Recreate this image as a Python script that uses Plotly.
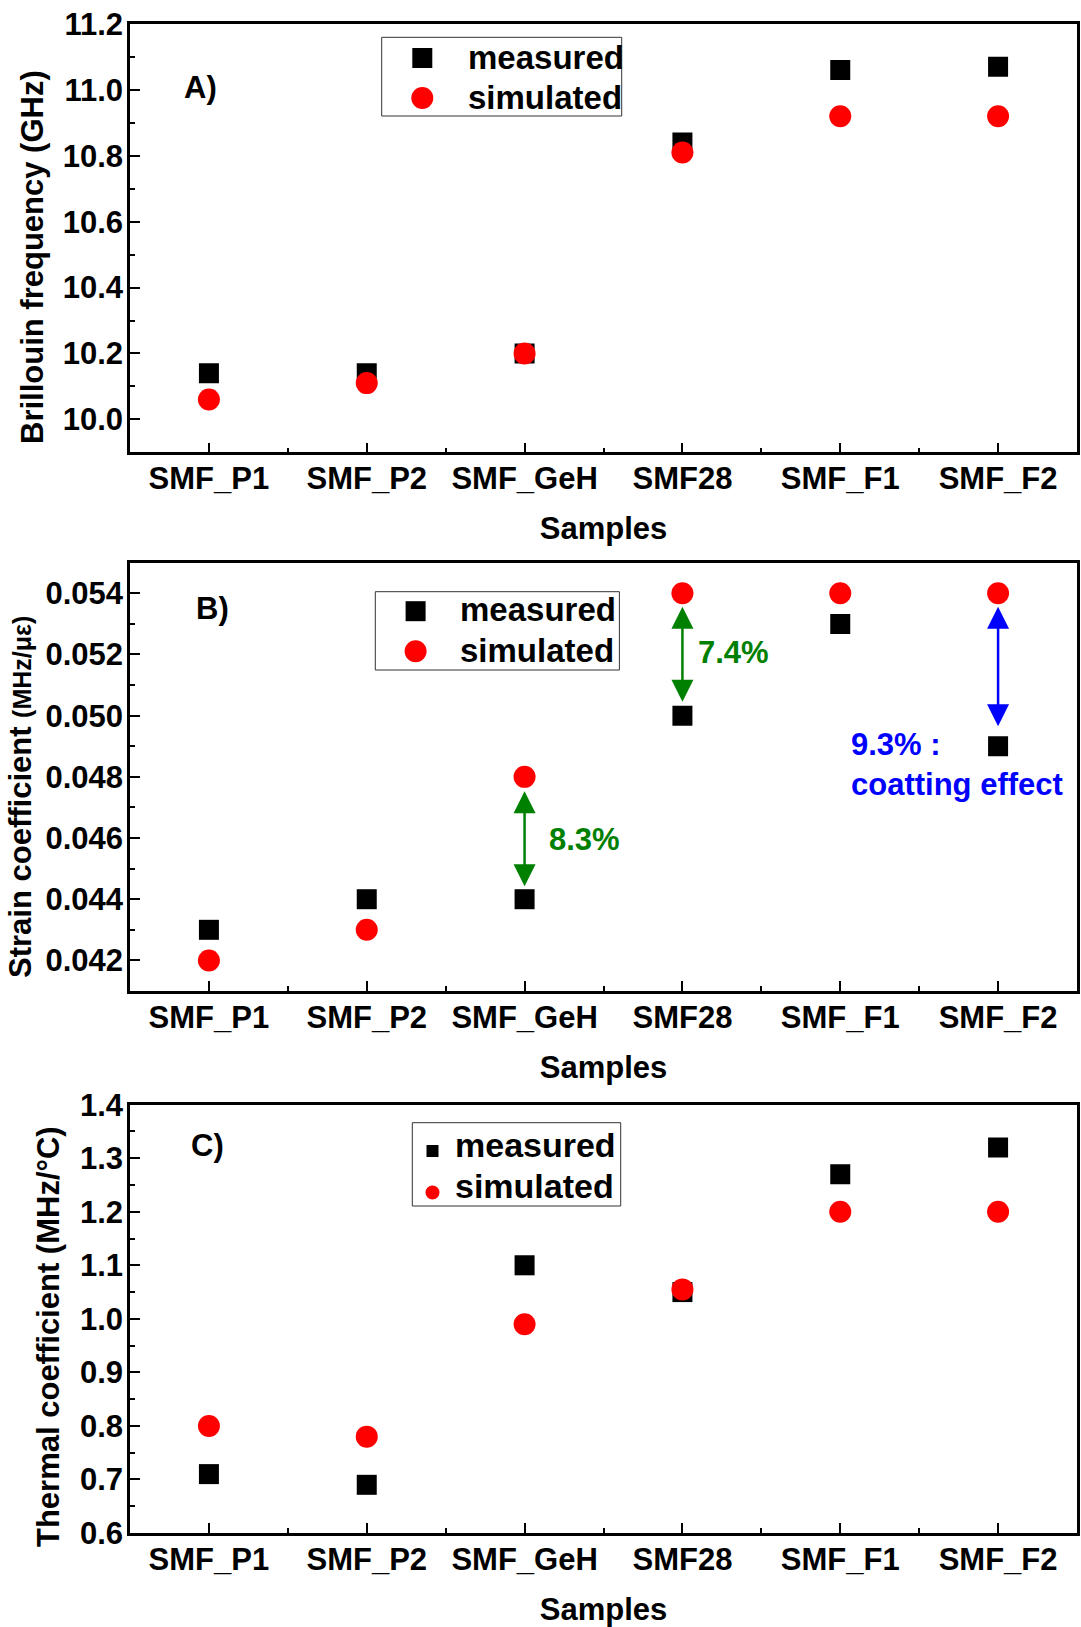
import plotly.graph_objects as go

# ---- data -----------------------------------------------------------------
samples = ["SMF_P1", "SMF_P2", "SMF_GeH", "SMF28", "SMF_F1", "SMF_F2"]

brillouin_measured = [10.14, 10.14, 10.20, 10.84, 11.06, 11.07]
brillouin_simulated = [10.06, 10.11, 10.20, 10.81, 10.92, 10.92]

strain_measured = [0.043, 0.044, 0.044, 0.050, 0.053, 0.049]
strain_simulated = [0.042, 0.043, 0.048, 0.054, 0.054, 0.054]

thermal_measured = [0.71, 0.69, 1.10, 1.05, 1.27, 1.32]
thermal_simulated = [0.80, 0.78, 0.99, 1.055, 1.20, 1.20]

series_names = ["measured", "simulated"]
panel_labels = ["A)", "B)", "C)"]
x_title = "Samples"
y_titles = [
    "Brillouin frequency (GHz)",
    "Strain coefficient <span style='font-size:25px'>(MHz/\u03bc\u03b5)</span>",
    "Thermal coefficient (MHz/\u00b0C)",
]
# strain-panel deviation notes: (sample, text)
deviation_notes = [
    ("SMF_GeH", "8.3%"),
    ("SMF28", "7.4%"),
    ("SMF_F2", "9.3% :<br>coatting effect"),
]

# ---- geometry helpers (pixel -> paper) -------------------------------------
W, H = 1081, 1627
FONT = "Liberation Sans, Arial, sans-serif"


def fx(p):
    return p / W


def fy(p):
    return 1 - p / H


PLOT_L, PLOT_R = 130, 1077
PANEL_TOPS = [24, 562.7, 1104.7]
PANEL_H = 428.3

x_idx = list(range(len(samples)))

fig = go.Figure()

panels = [
    (brillouin_measured, brillouin_simulated),
    (strain_measured, strain_simulated),
    (thermal_measured, thermal_simulated),
]

for k, (meas, sim) in enumerate(panels):
    sfx = "" if k == 0 else str(k + 1)
    fig.add_trace(go.Scatter(
        x=x_idx, y=meas, mode="markers", name=series_names[0],
        xaxis="x" + sfx, yaxis="y" + sfx, showlegend=False,
        marker=dict(symbol="square", size=20, color="black", line=dict(width=0)),
    ))
    fig.add_trace(go.Scatter(
        x=x_idx, y=sim, mode="markers", name=series_names[1],
        xaxis="x" + sfx, yaxis="y" + sfx, showlegend=False,
        marker=dict(symbol="circle", size=22, color="#ff0000", line=dict(width=0)),
    ))

tick_font = dict(family=FONT, size=31, color="black", weight="bold")

y_specs = [
    dict(range=[9.9, 11.2], dtick=0.2, tick0=0, minor_dtick=0.1, fmt=".1f"),
    dict(range=[0.041, 0.055], dtick=0.002, tick0=0, minor_dtick=0.001, fmt=".3f"),
    dict(range=[0.6, 1.4], dtick=0.1, tick0=0, minor_dtick=0.05, fmt=".1f"),
]

layout = dict(
    width=W, height=H, autosize=False,
    margin=dict(l=0, r=0, t=0, b=0),
    paper_bgcolor="white", plot_bgcolor="white",
    font=dict(family=FONT, color="black"),
    showlegend=False,
)

minor_x = [i + 0.5 for i in range(-1, len(samples))]

for k, spec in enumerate(y_specs):
    sfx = "" if k == 0 else str(k + 1)
    top = PANEL_TOPS[k]
    bottom = top + PANEL_H
    layout["xaxis" + sfx] = dict(
        domain=[fx(PLOT_L), fx(PLOT_R)], anchor="y" + sfx,
        range=[-0.5, len(samples) - 0.5],
        tickmode="array", tickvals=x_idx, ticktext=samples,
        ticks="inside", ticklen=10, tickwidth=2, tickcolor="black",
        minor=dict(tickmode="array", tickvals=minor_x, ticks="inside",
                   ticklen=5, tickwidth=2, tickcolor="black"),
        showline=True, linecolor="black", linewidth=2.5, mirror=True,
        showgrid=False, zeroline=False, tickfont=tick_font,
        ticklabelstandoff=-3,
        title=dict(text=x_title, standoff=23,
                   font=dict(family=FONT, size=31, color="black", weight="bold")),
        automargin=False,
    )
    layout["yaxis" + sfx] = dict(
        domain=[fy(bottom), fy(top)], anchor="x" + sfx,
        range=spec["range"], tickmode="linear", tick0=spec["tick0"], dtick=spec["dtick"],
        tickformat=spec["fmt"],
        ticks="inside", ticklen=10, tickwidth=2, tickcolor="black",
        minor=dict(dtick=spec["minor_dtick"], ticks="inside", ticklen=5,
                   tickwidth=2, tickcolor="black"),
        showline=True, linecolor="black", linewidth=2.5, mirror=True,
        showgrid=False, zeroline=False, tickfont=tick_font,
        ticklabelstandoff=-2,
        automargin=False,
    )

fig.update_layout(**layout)

annotations = []
shapes = []

# panel letters
letter_pos = [(200.6, 87), (212.5, 608.5), (207.4, 1145)]
for text, (px_, py_) in zip(panel_labels, letter_pos):
    annotations.append(dict(
        text=text, x=fx(px_), y=fy(py_), xref="paper", yref="paper",
        xanchor="center", yanchor="middle", showarrow=False,
        font=dict(family=FONT, size=31, color="black", weight="bold"),
    ))

# rotated y-axis titles
y_title_pos = [(32, 257), (21, 797), (48, 1337)]
for text, (px_, py_) in zip(y_titles, y_title_pos):
    annotations.append(dict(
        text=text, x=fx(px_), y=fy(py_), xref="paper", yref="paper",
        xanchor="center", yanchor="middle", textangle=-90, showarrow=False,
        font=dict(family=FONT, size=31, color="black", weight="bold"),
    ))

# legend boxes: box (x0, y0, x1, y1), swatch x, swatch row y's, text x, swatch sizes,
# text row y's, text size
legend_specs = [
    dict(box=(381.7, 37.3, 621.7, 116), sx=422.3, rows=(58, 98), tx=466,
         sizes=(20, 22), trows=(57, 97), fs=33),
    dict(box=(375.3, 591.7, 619.4, 670), sx=415.6, rows=(611.2, 651.3), tx=458,
         sizes=(20, 22), trows=(610, 650), fs=33),
    dict(box=(412.3, 1122.7, 620.7, 1206), sx=432.5, rows=(1151, 1192.5), tx=453,
         sizes=(12, 14), trows=(1145, 1186), fs=34),
]
for spec in legend_specs:
    x0, y0, x1, y1 = spec["box"]
    shapes.append(dict(type="rect", xref="paper", yref="paper",
                       x0=fx(x0), x1=fx(x1), y0=fy(y1), y1=fy(y0),
                       line=dict(color="#333333", width=1), fillcolor="rgba(0,0,0,0)"))
    kinds = [("rect", "black"), ("circle", "#ff0000")]
    for (kind, col), ry, sz in zip(kinds, spec["rows"], spec["sizes"]):
        h = sz / 2
        shapes.append(dict(type=kind, xref="paper", yref="paper",
                           xsizemode="pixel", ysizemode="pixel",
                           xanchor=fx(spec["sx"]), yanchor=fy(ry),
                           x0=-h, x1=h, y0=-h, y1=h,
                           fillcolor=col, line=dict(width=0)))
    for name, ty in zip(series_names, spec["trows"]):
        annotations.append(dict(
            text=name, x=fx(spec["tx"]), y=fy(ty), xref="paper", yref="paper",
            xanchor="left", yanchor="middle", showarrow=False,
            font=dict(family=FONT, size=spec["fs"], color="black", weight="bold"),
        ))

# deviation arrows + notes on the strain panel
note_style = {
    "SMF_GeH": dict(color="#008000", end_gap=13, start_gap=13, dx=22, dy=-1, mid=True),
    "SMF28": dict(color="#008000", end_gap=14, start_gap=12, dx=14, dy=2, mid=True),
    "SMF_F2": dict(color="#0000ff", end_gap=20, start_gap=12, dx=-149, dy=-18, mid=False),
}
for name, text in deviation_notes:
    i = samples.index(name)
    st = note_style[name]
    m, s = strain_measured[i], strain_simulated[i]
    annotations.append(dict(
        text="", x=i, y=m, ax=i, ay=s, xref="x2", yref="y2", axref="x2", ayref="y2",
        showarrow=True, arrowside="end+start", arrowhead=2, startarrowhead=2,
        arrowsize=1.76, startarrowsize=1.76, arrowwidth=2.5, arrowcolor=st["color"],
        standoff=st["end_gap"], startstandoff=st["start_gap"],
    ))
    ty = (m + s) / 2 if st["mid"] else m
    annotations.append(dict(
        text=text, x=i, y=ty, xref="x2", yref="y2", xanchor="left", yanchor="middle",
        xshift=st["dx"], yshift=st["dy"], showarrow=False, align="left",
        font=dict(family=FONT, size=31, color=st["color"], weight="bold"),
    ))

fig.update_layout(annotations=annotations, shapes=shapes)

fig.write_html("out.html")
